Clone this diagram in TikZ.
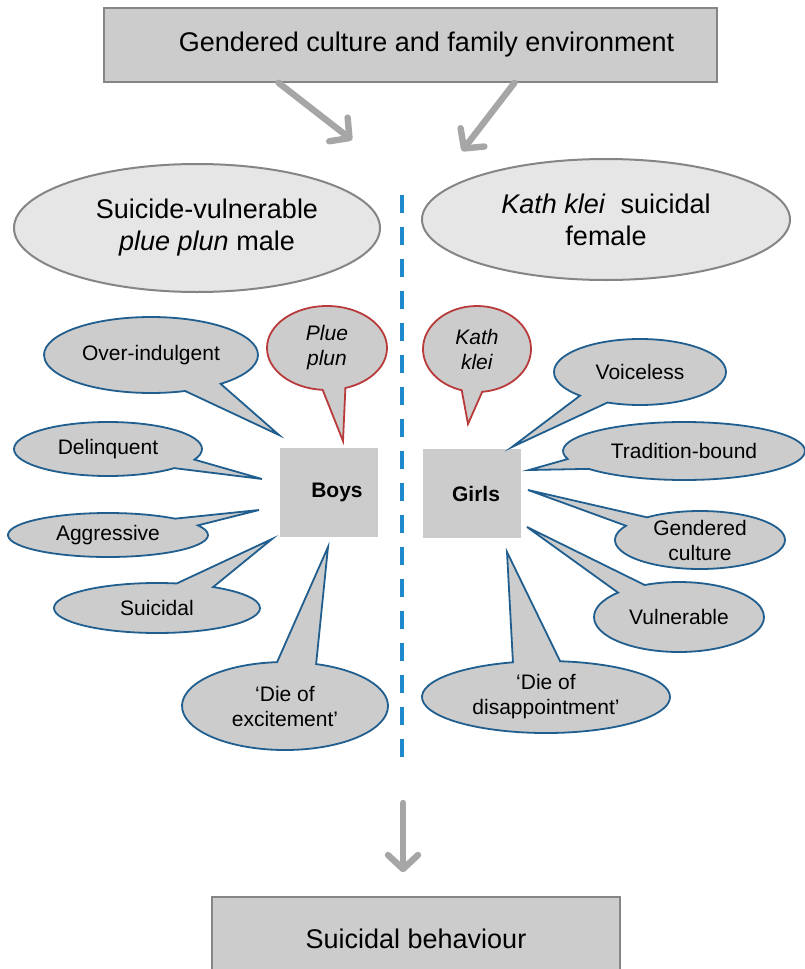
\documentclass[tikz,border=0pt]{standalone}
\usepackage{fontspec}
\setmainfont{Liberation Sans}
\usepackage{tikz}
\usetikzlibrary{shapes.geometric,shapes.callouts,arrows.meta}
\definecolor{boxgray}{HTML}{CCCCCC}
\definecolor{lightfill}{HTML}{E6E6E6}
\definecolor{edgegray}{HTML}{858585}
\definecolor{bubbleblue}{HTML}{1F5E8E}
\definecolor{bubblered}{HTML}{B83A3A}
\definecolor{dashblue}{HTML}{1E88CF}
\definecolor{arrowgray}{HTML}{A6A6A6}

\begin{document}
\begin{tikzpicture}[x=0.5pt, y=-0.5pt,
  box/.style={draw=edgegray, fill=boxgray, rectangle, line width=0.8pt, inner sep=0pt, font=\fontsize{13.5}{16}\selectfont},
  big-ellipse/.style={draw=edgegray, fill=lightfill, ellipse, line width=1pt, inner sep=0pt, align=center, font=\fontsize{13.5}{16}\selectfont},
  gender/.style={fill=boxgray, rectangle, minimum width=49pt, minimum height=44.5pt, font=\fontsize{10.5}{12.5}\selectfont\bfseries},
  blue-call/.style={ellipse callout, draw=bubbleblue, fill=boxgray, line width=0.9pt, inner sep=0pt, callout pointer arc=22, align=center, font=\fontsize{10.5}{12.5}\selectfont},
  red-call/.style={blue-call, draw=bubblered},
  bigarrow/.style={draw=arrowgray, line width=3.2pt, line cap=round, -{Straight Barb[length=7pt,width=15pt,round]}}]
\useasboundingbox (0,0) rectangle (804,969);
% Culture
\node[box, minimum width=306.5pt, minimum height=37pt] (culture) at (410.5,45) {\hspace*{16pt}Gendered culture and family environment};
\coordinate (tip-left) at (352,140);
\coordinate (tip-right) at (462,151);
\draw[bigarrow] ([xshift=-66pt]culture.south) -- (tip-left);
\draw[bigarrow] ([xshift=52pt]culture.south) -- (tip-right);
% Male / female
\node[big-ellipse, minimum width=183pt, minimum height=64pt] (male) at (197,228) {\hspace*{10pt}Suicide-vulnerable\\\hspace*{10pt}\textit{plue plun} male};
\node[big-ellipse, minimum width=184pt, minimum height=60.5pt] (female) at (606,219.5) {\textit{Kath klei}\ \ suicidal\\female};
% Split
\coordinate (split-top) at (402,195);
\coordinate (split-bottom) at (402,758);
\draw[dashblue, line width=2.4pt, dash pattern=on 9pt off 7pt] (split-top) -- (split-bottom);
% Boys and girls
\node[gender] (boys) at (329,492.5) {\hspace*{8pt}Boys};
\node[gender] (girls) at (472,493.5) {\hspace*{4pt}Girls};
% Boys callouts
\node[red-call, minimum width=60pt, minimum height=42pt, callout absolute pointer={(343,441)}] (call-plue) at (327,348) {\textit{Plue}\\\textit{plun}};
\node[blue-call, minimum width=107pt, minimum height=38pt, callout absolute pointer={(279,435)}] (call-over) at (151,355) {Over-indulgent};
\node[blue-call, minimum width=94pt, minimum height=27pt, callout absolute pointer={(262,479)}] (call-delinquent) at (108,449) {Delinquent};
\node[blue-call, minimum width=100pt, minimum height=22pt, callout absolute pointer={(259,510)}] (call-aggressive) at (108,535) {Aggressive};
\node[blue-call, minimum width=103pt, minimum height=25pt, callout absolute pointer={(272,539)}] (call-suicidal) at (157,608) {Suicidal};
\node[blue-call, minimum width=103pt, minimum height=44pt, callout absolute pointer={(328,547)}] (call-excitement) at (285,706) {‘Die of\\excitement’};
% Girls callouts
\node[red-call, minimum width=54pt, minimum height=43pt, callout absolute pointer={(468,424)}] (call-kath) at (477,349) {\textit{Kath}\\\textit{klei}};
\node[blue-call, minimum width=86pt, minimum height=33pt, callout absolute pointer={(512,447)}] (call-voiceless) at (640,372) {Voiceless};
\node[blue-call, minimum width=121pt, minimum height=29pt, callout absolute pointer={(529,470)}] (call-tradition) at (684,451) {Tradition-bound};
\node[blue-call, minimum width=85pt, minimum height=29pt, callout absolute pointer={(528,490)}] (call-gendered) at (700,540) {Gendered\\culture};
\node[blue-call, minimum width=85pt, minimum height=35pt, callout absolute pointer={(527,527)}] (call-vulnerable) at (679,617) {Vulnerable};
\node[blue-call, minimum width=124pt, minimum height=36pt, callout absolute pointer={(507,552)}] (call-disappointment) at (546,697) {‘Die of\\disappointment’};
% Behaviour
\node[box, minimum width=204pt, minimum height=41.5pt] (behaviour) at (416,938.5) {Suicidal behaviour};
\coordinate (down-start) at (403,803);
\draw[bigarrow] (down-start) -- ([xshift=-6.5pt, yshift=12pt]behaviour.north);
\end{tikzpicture}
\end{document}
